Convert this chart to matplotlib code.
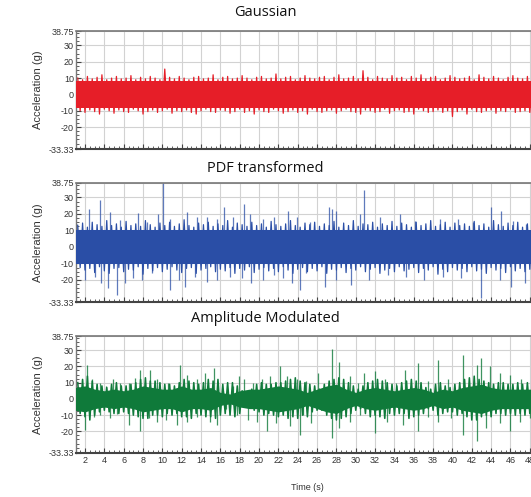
import numpy as np
import matplotlib.pyplot as plt
from matplotlib.ticker import MultipleLocator, FixedLocator

# ---- data (seconds, g) ----
titles = ["Gaussian", "PDF transformed", "Amplitude Modulated"]
colors = ["#e61e28", "#2a4ea6", "#0f7a3a"]
y_ticks = [-33.33, -20, -10, 0, 10, 20, 30, 38.75]
y_ticklabels = ["-33.33", "-20", "-10", "0", "10", "20", "30", "38.75"]
x_ticks = list(range(2, 50, 2))

# dense core half-width
gauss_core = 8.0
pdf_core = 10.5

# half-second envelope peaks (start 1.25 s, step 0.5 s)
gauss_env_hi = [10, 9, 11, 9.5, 10.5, 12, 9, 10, 11, 9.5, 10, 11.5, 9, 10.5, 9.5, 11, 10, 9, 15.5, 10.5,
                9.5, 11, 10, 9, 10.5, 11, 9.5, 10, 12, 9, 10.5, 11, 9.5, 10, 11.5, 10, 9, 10.5, 11, 9.5,
                10, 12.5, 9.5, 10.5, 11, 9, 10, 11.5, 10, 9.5, 10.5, 11, 9, 10.5, 12, 9.5, 10, 11, 9.5, 14.5,
                10.5, 9, 11, 10, 9.5, 11.5, 10, 10.5, 9, 11, 10, 12, 9.5, 10.5, 11, 9, 10, 11.5, 10.5, 9.5,
                10, 11, 9, 12, 10.5, 9.5, 11, 10, 9, 10.5, 11.5, 10, 9.5, 11, 10, 12]
gauss_env_lo = [-10, -11, -9.5, -10.5, -12, -9, -10, -11.5, -9.5, -10.5, -11, -9, -10, -12, -10.5, -9.5, -11, -10, -9, -11.5,
                -10, -10.5, -9.5, -11, -12, -10, -9, -10.5, -11, -9.5, -10, -11.5, -10.5, -9, -11, -10, -12, -9.5, -10.5, -11,
                -9, -10, -11.5, -10.5, -9.5, -11, -10, -12, -9, -10.5, -11, -10, -9.5, -11.5, -10, -9, -10.5, -11, -12, -9.5,
                -10, -11, -10.5, -9, -11.5, -10, -9.5, -11, -10.5, -12, -9, -10, -11, -10.5, -9.5, -11, -10, -13.5, -10.5, -9.5,
                -12, -9, -10.5, -11, -10, -9.5, -11.5, -10, -10.5, -9, -11, -10.5, -10, -11, -9.5, -10.5]
pdf_env_hi = [13, 14.5, 12, 15, 13.5, 12.5, 16, 13, 14, 12, 15.5, 13, 14, 12.5, 16, 13.5, 12, 14.5, 13, 15,
              12.5, 14, 16.5, 13, 12, 14.5, 13.5, 15, 12.5, 14, 13, 16, 12, 14.5, 13.5, 12.5, 15, 13, 14, 12,
              15.5, 13.5, 12.5, 14, 16, 13, 12, 14.5, 13.5, 15, 12.5, 14, 13, 15.5, 12, 14.5, 13, 16, 12.5, 14,
              13.5, 15, 12, 14, 13, 15.5, 12.5, 14.5, 13.5, 12, 15, 13, 14, 16, 12.5, 13.5, 15, 12, 14.5, 13,
              14, 12.5, 15.5, 13, 14, 12, 16, 13.5, 12.5, 14.5, 13, 15, 12, 14, 13.5, 15]
pdf_env_lo = [-12.5, -14, -13, -15.5, -12, -14.5, -16, -13, -12.5, -15, -13.5, -14, -12, -16.5, -13, -14.5, -12.5, -15, -13.5, -12,
              -14, -15.5, -13, -12.5, -16, -14, -13, -12, -15, -13.5, -14.5, -12.5, -16, -13, -14, -12, -15.5, -13.5, -12.5, -14.5,
              -13, -15, -12, -14, -16, -13.5, -12.5, -15, -13, -14.5, -12, -16, -13.5, -14, -12.5, -15.5, -13, -14, -12, -15,
              -13.5, -12.5, -16, -14, -13, -15, -12, -14.5, -13.5, -12.5, -15.5, -13, -14, -12, -16.5, -13.5, -15, -12.5, -14, -13,
              -15, -12, -14.5, -13.5, -16, -12.5, -14, -13, -15.5, -12, -14.5, -13, -15, -13.5, -12.5, -14]
am_env_hi = [10, 12, 14, 11, 9, 8, 7, 9, 10, 8, 8, 9, 10, 12, 13, 11, 11, 10, 9, 9,
             8, 10, 12, 11, 10, 9, 10, 12, 11, 12, 9, 10, 10, 8, 5, 4, 6, 9, 10, 9,
             9, 10, 10, 11, 12, 13, 11, 10, 9, 8, 6, 9, 11, 12, 13, 12, 10, 8, 6, 8,
             10, 11, 12, 11, 10, 9, 8, 10, 11, 12, 11, 10, 7, 6, 9, 10, 8, 7, 9, 10,
             12, 13, 14, 12, 11, 10, 9, 10, 10, 9, 9, 10, 9, 10, 9, 9]
am_env_lo = [-9, -11, -13, -10, -8, -7, -8, -9, -9, -8, -9, -10, -11, -12, -12, -10, -10, -11, -9, -10,
             -9, -11, -11, -12, -9, -10, -11, -11, -12, -10, -9, -10, -11, -9, -5, -4, -7, -8, -10, -9,
             -10, -11, -10, -12, -11, -12, -10, -11, -8, -7, -7, -10, -12, -13, -12, -11, -9, -7, -6, -9,
             -11, -10, -11, -12, -9, -10, -9, -9, -12, -11, -10, -9, -6, -7, -10, -9, -8, -8, -10, -9,
             -11, -13, -13, -11, -10, -11, -9, -9, -10, -9, -10, -9, -10, -9, -10, -9]

# amplitude modulated: dense core half-width sampled every second
am_core_t = list(range(1, 50))
am_core = [7, 8, 6, 5, 6, 5, 6, 8, 7, 6, 6, 8, 6, 6, 7, 4, 3, 5, 6, 6,
           7, 8, 7, 6, 4, 6, 8, 9, 6, 4, 6, 7, 6, 5, 6, 7, 6, 4, 6, 5,
           7, 8, 9, 7, 6, 6, 6, 6, 6]

# isolated spikes (time, value)
pdf_hi_t = [1.2, 2.4, 3.55, 4.6, 5.6, 7.5, 8.4, 9.6, 10.1, 10.8, 12.5, 13.6, 14.6,
            15.6, 16.4, 17.3, 18.4, 19.1, 20.4, 21.5, 23.0, 23.9, 25.3, 27.2,
            27.5, 28.0, 30.4, 30.9, 32.5, 34.6, 36.1, 38.7, 40.6, 42.1, 44.0,
            45.0, 46.3, 47.6]
pdf_hi_v = [14, 22.8, 28.4, 21, 16.3, 20.8, 15, 20, 38.5, 17, 21, 18, 18.4,
            17, 24.4, 18, 26, 20, 17, 18.4, 22, 18, 15, 24.4,
            23, 22, 20, 34.5, 18, 20, 16, 17, 17, 15, 24,
            22, 16, 14]
pdf_lo_t = [2.0, 3.0, 3.7, 4.4, 5.3, 6.1, 7.0, 7.9, 8.9, 10.8, 11.7, 12.3, 13.4,
            14.6, 15.6, 17.0, 18.2, 19.2, 20.4, 21.5, 22.5, 23.4, 24.2, 24.9,
            26.8, 28.0, 29.5, 31.4, 33.3, 35.2, 37.1, 39.0, 40.9, 43.0, 44.9,
            46.1, 47.5]
pdf_lo_v = [-20, -18, -22, -25, -29, -22, -19, -20, -16, -26, -20, -24, -18,
            -21, -20, -18, -19, -22, -20, -17, -19, -22, -26, -16,
            -24, -20, -23, -20, -17, -18, -20, -18, -19, -31, -20,
            -24, -22]

am_hi_t = [1.1, 2.2, 2.7, 3.55, 4.2, 4.9, 5.6, 6.5, 7.2, 7.7, 8.7, 9.4, 10.6,
           11.8, 12.5, 13.6, 14.4, 15.3, 16.3, 17.3, 17.9, 18.4, 19.4, 20.3,
           21.1, 22.2, 22.9, 23.9, 24.9, 26.1, 27.5, 28.3, 29.4, 30.2, 30.9,
           32.0, 33.0, 34.2, 35.1, 36.4, 37.5, 38.5, 39.5, 41.1, 42.5, 43.0,
           43.9, 44.9, 45.9, 47.1]
am_hi_v = [10, 21, 12, 10, 8, 12, 10, 10, 13, 18, 18, 12, 10,
           21, 15, 12, 16, 19, 5, 8, 14, 12, 10, 12,
           14, 20, 14, 12, 11, 16, 31, 23, 14, 10, 16,
           17, 12, 10, 18, 22, 11, 24, 12, 27, 21, 25,
           20, 16, 15, 12]
am_lo_t = [1.1, 2.0, 2.9, 3.55, 4.6, 5.3, 6.5, 7.7, 8.6, 9.4, 10.4, 11.5, 12.5,
           13.6, 14.9, 15.6, 16.6, 17.7, 18.9, 19.8, 20.8, 21.8, 23.2, 24.2,
           24.5, 25.4, 27.5, 28.3, 29.4, 30.4, 32.0, 33.2, 34.9, 36.4, 37.5,
           38.5, 39.9, 41.1, 42.5, 43.5, 44.9, 45.9, 47.0, 48.0]
am_lo_v = [-8, -19, -11, -10, -12, -9, -16, -20, -12, -14, -13, -16, -14,
           -11, -14, -16, -6, -10, -13, -14, -20, -15, -17, -22,
           -10, -15, -24, -18, -14, -10, -21, -14, -16, -20, -11,
           -14, -12, -22, -26, -18, -15, -20, -14, -12]


def zigzag(t_hi, v_hi, t_lo, v_lo):
    # interleave upper and lower peaks in time order
    t = np.concatenate([t_hi, t_lo])
    v = np.concatenate([v_hi, v_lo])
    order = np.argsort(t, kind='stable')
    return t[order], v[order]


env_t = 1.25 + 0.5 * np.arange(len(gauss_env_hi))

plt.rcParams['font.family'] = ['Liberation Sans', 'DejaVu Sans']

W, H = 531, 497
fig = plt.figure(figsize=(W / 100, H / 100), dpi=100)

panels = [(31, 149), (183, 302), (336, 453)]
left_px = 76
x0, x1 = 1.07, 50.0
px_per_s = 9.67
width_px = (x1 - x0) * px_per_s
title_y = [12, 169, 319]

axes = []
for i, (top, bot) in enumerate(panels):
    ax = fig.add_axes([left_px / W, 1 - bot / H, width_px / W, (bot - top) / H])
    axes.append(ax)

# Gaussian
ax, c = axes[0], colors[0]
zt, zv = zigzag(env_t, gauss_env_hi, env_t + 0.25, gauss_env_lo)
ax.plot(zt, zv, color=c, lw=0.9, zorder=2)
ax.fill_between([1, 50], -gauss_core, gauss_core, color=c, lw=0, zorder=3)

# PDF transformed
ax, c = axes[1], colors[1]
zt, zv = zigzag(env_t, pdf_env_hi, env_t + 0.25, pdf_env_lo)
ax.plot(zt, zv, color=c, lw=0.9, zorder=2)
ax.vlines(pdf_hi_t, 0, pdf_hi_v, color=c, lw=0.9, alpha=0.75, zorder=2.5)
ax.vlines(pdf_lo_t, pdf_lo_v, 0, color=c, lw=0.9, alpha=0.75, zorder=2.5)
ax.fill_between([1, 50], -pdf_core, pdf_core, color=c, lw=0, zorder=3)

# Amplitude modulated
ax, c = axes[2], colors[2]
zt, zv = zigzag(env_t, am_env_hi, env_t + 0.25, am_env_lo)
ax.plot(zt, zv, color=c, lw=1.15, zorder=2)
ax.vlines(am_hi_t, 0, am_hi_v, color=c, lw=0.9, alpha=0.8, zorder=2.5)
ax.vlines(am_lo_t, am_lo_v, 0, color=c, lw=0.9, alpha=0.8, zorder=2.5)
core = np.array(am_core)
ax.fill_between(am_core_t, -core, core, color=c, lw=0, zorder=3)

for i, ax in enumerate(axes):
    ax.set_xlim(x0, x1)
    ax.set_ylim(-33.33, 38.75)
    ax.xaxis.set_major_locator(FixedLocator(x_ticks))
    ax.xaxis.set_minor_locator(MultipleLocator(0.5))
    ax.yaxis.set_major_locator(FixedLocator(y_ticks))
    ax.yaxis.set_minor_locator(MultipleLocator(2.5))
    ax.set_yticklabels(y_ticklabels)
    ax.grid(True, which='major', color='#d2d2d2', lw=0.8, zorder=0)
    ax.set_axisbelow(True)
    ax.tick_params(which='both', direction='in', colors='#444444',
                   labelcolor='#333333', labelsize=6.5, pad=2)
    ax.tick_params(which='major', length=3.5, width=0.8)
    ax.tick_params(which='minor', length=2, width=0.6)
    ax.tick_params(axis='y', pad=1.5)
    if i < 2:
        ax.tick_params(axis='x', labelbottom=False)
    ax.spines['right'].set_visible(False)
    ax.spines['top'].set_color('#777777')
    ax.spines['top'].set_linewidth(1.2)
    ax.spines['left'].set_color('#777777')
    ax.spines['left'].set_linewidth(1.0)
    ax.spines['bottom'].set_color('#444444')
    ax.spines['bottom'].set_linewidth(1.5)
    ax.set_ylabel("Acceleration (g)", fontsize=8, color='#333333', labelpad=4)
    fig.text(265 / W, 1 - title_y[i] / H, titles[i], ha='center', va='center',
             fontsize=10.5, family=['Open Sans', 'DejaVu Sans'], color='#111111')

fig.text(307 / W, 1 - 487 / H, "Time (s)", ha='center', va='center',
         fontsize=6.5, color='#333333')

fig.savefig("out.png", dpi=100)
